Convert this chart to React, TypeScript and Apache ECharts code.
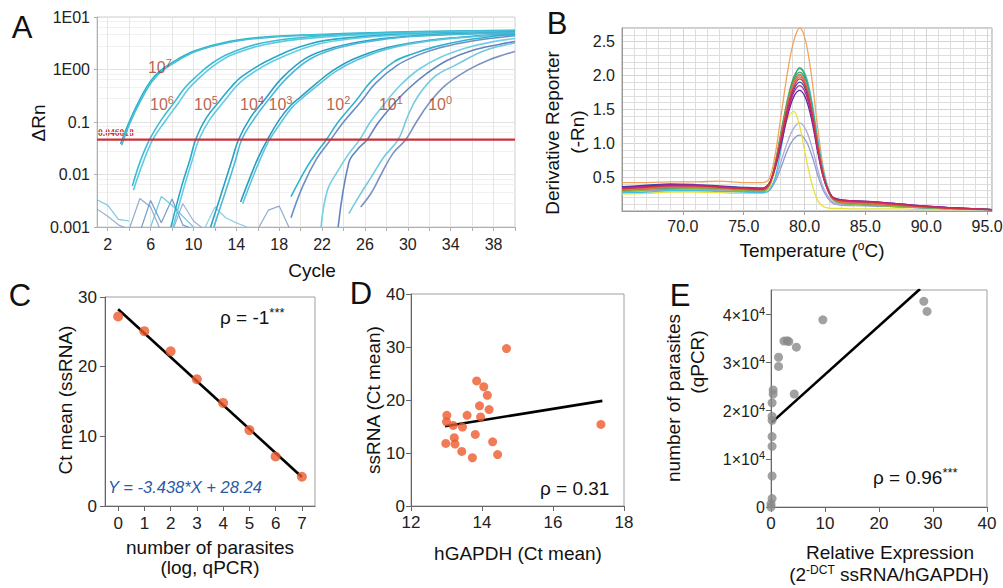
import React, { useEffect, useRef } from 'react';
import * as echarts from 'echarts';

const FONT = '"Liberation Sans", Arial, Helvetica, sans-serif';

// ---------- Panel A: amplification plot ----------
const cycleLabelTicks = [2, 6, 10, 14, 18, 22, 26, 30, 34, 38];
const cycleMinorTicks = [2, 4, 6, 8, 10, 12, 14, 16, 18, 20, 22, 24, 26, 28, 30, 32, 34, 36, 38, 40];
const thresholdA = 0.046018;

const amp7a = [[3.2, 0.038], [4, 0.1], [5, 0.27], [6, 0.6], [7, 0.98], [8.6, 1.6], [10.2, 2.3], [13.3, 3.4], [16.4, 4.1], [21, 4.6], [28, 5.1], [34, 5.4], [40, 5.6]];
const amp7b = [[3.3, 0.036], [4.1, 0.098], [5.1, 0.26], [6.1, 0.58], [7.1, 0.95], [8.7, 1.55], [10.3, 2.25], [13.4, 3.3], [16.5, 4.0], [21, 4.5], [28, 5.0], [34, 5.3], [40, 5.5]];
const amp6a = [[4.3, 0.006], [5, 0.017], [5.9, 0.046], [7, 0.11], [8.3, 0.25], [9.2, 0.45], [10.2, 0.72], [11.7, 1.3], [13.3, 2.0], [16.4, 3.2], [20.9, 4.2], [27, 4.8], [34, 5.2], [40, 5.4]];
const amp6b = [[4.4, 0.005], [5.2, 0.015], [6.2, 0.046], [7.3, 0.1], [8.6, 0.23], [9.5, 0.42], [10.5, 0.68], [12, 1.22], [13.6, 1.9], [16.7, 3.0], [21.2, 4.0], [27, 4.7], [34, 5.1], [40, 5.3]];
const amp5a = [[7.9, 0.001], [8.9, 0.006], [9.7, 0.02], [10.2, 0.046], [11.2, 0.12], [12.5, 0.26], [13.5, 0.46], [14.5, 0.73], [17, 1.5], [20.9, 3.1], [25, 4.1], [30, 4.7], [35, 5.0], [40, 5.2]];
const amp5b = [[8.1, 0.001], [9.1, 0.0055], [9.9, 0.019], [10.5, 0.046], [11.5, 0.11], [12.8, 0.24], [13.8, 0.43], [14.8, 0.68], [17.3, 1.4], [21.2, 2.9], [25, 3.9], [30, 4.6], [35, 4.9], [40, 5.1]];
const amp4a = [[11.6, 0.001], [12.7, 0.005], [13.6, 0.019], [14.2, 0.046], [15.3, 0.12], [16.6, 0.26], [18.3, 0.7], [20.5, 1.65], [23, 2.6], [26, 3.5], [30, 4.3], [35, 4.8], [40, 5.1]];
const amp4b = [[11.9, 0.001], [13, 0.0048], [13.9, 0.018], [14.5, 0.046], [15.6, 0.11], [16.9, 0.25], [18.6, 0.65], [20.8, 1.55], [23.3, 2.5], [26.3, 3.4], [30, 4.2], [35, 4.7], [40, 5.0]];
const amp3a = [[14.4, 0.003], [15.2, 0.008], [16, 0.02], [16.9, 0.046], [18, 0.11], [19, 0.2], [20, 0.3], [21.5, 0.55], [23, 0.95], [25, 1.6], [28, 2.6], [32, 3.6], [36, 4.3], [40, 4.7]];
const amp3b = [[14.6, 0.0028], [15.4, 0.0075], [16.2, 0.019], [17.1, 0.046], [18.2, 0.1], [19.2, 0.19], [20.2, 0.29], [21.7, 0.52], [23.2, 0.9], [25.2, 1.5], [28.2, 2.5], [32, 3.5], [36, 4.2], [40, 4.6]];
const amp2a = [[19.1, 0.0038], [20.6, 0.014], [21.6, 0.028], [22.4, 0.046], [23.5, 0.1], [25.2, 0.26], [26.6, 0.6], [28.7, 1.4], [30.5, 2.0], [32.5, 2.7], [35, 3.5], [38, 4.3], [40, 4.7]];
const amp2b = [[19.1, 0.0015], [20.2, 0.006], [21.5, 0.02], [22.8, 0.046], [24, 0.1], [25.6, 0.24], [27, 0.55], [29, 1.2], [31, 1.9], [33, 2.6], [36, 3.5], [40, 4.4]];
const amp1a = [[21.9, 0.001], [22.5, 0.005], [23.5, 0.012], [24.5, 0.025], [25.5, 0.046], [26.5, 0.1], [27.8, 0.22], [29.3, 0.5], [31, 1.0], [33, 1.7], [35.5, 2.6], [38, 3.4], [40, 3.9]];
const amp1b = [[23.5, 0.001], [24.5, 0.017], [25.3, 0.03], [26.2, 0.046], [27.2, 0.095], [28.5, 0.2], [30, 0.42], [31.8, 0.85], [33.7, 1.5], [36, 2.3], [38.5, 3.0], [40, 3.4]];
const amp0a = [[24.5, 0.0018], [25.5, 0.004], [26.6, 0.009], [27.8, 0.022], [29.1, 0.046], [30, 0.13], [30.9, 0.3], [32.5, 0.73], [34.4, 1.2], [37.2, 2.3], [40, 3.2]];
const amp0b = [[25.6, 0.0024], [26.6, 0.0045], [27.5, 0.01], [28.6, 0.025], [29.8, 0.046], [30.8, 0.1], [32, 0.23], [33.5, 0.5], [35.5, 0.95], [37.5, 1.5], [40, 2.2]];
const ampCurves = [amp7a, amp7b, amp6a, amp6b, amp5a, amp5b, amp4a, amp4b, amp3a, amp3b, amp2a, amp2b, amp1a, amp1b, amp0a, amp0b];
const ampColors = ['#2ab2cc', '#45bfd6', '#3cbdd6', '#5ccbe0', '#28a9c9', '#62cde2', '#2a9fc6', '#4bbad6', '#2a9dc4', '#5ac5dc', '#31b3d0', '#6b8fc6', '#72d0e2', '#6583bc', '#74cadf', '#7b92c2'];

const noise1 = [[1, 0.0033], [2, 0.0026], [3, 0.0014], [4, 0.0013]];
const noise2 = [[1, 0.0022], [2, 0.0016], [3, 0.0011], [4, 0.0009]];
const noise3 = [[4, 0.0009], [5, 0.0035], [6, 0.0024], [7, 0.0008]];
const noise4 = [[5, 0.0008], [6, 0.0032], [7, 0.0012], [8, 0.0034], [9, 0.0011], [10, 0.0009]];
const noise5 = [[6, 0.001], [7, 0.0038], [8, 0.0026], [9, 0.0016], [10, 0.001]];
const noise6 = [[8, 0.0008], [9, 0.0028], [10, 0.0013], [11, 0.0009]];
const noise7 = [[11, 0.0009], [12, 0.0024], [13, 0.0015], [14, 0.0012], [15, 0.001]];
const noise8 = [[16, 0.0009], [17, 0.0021], [18, 0.0025], [19, 0.0009]];
const noiseCurves = [noise1, noise2, noise3, noise4, noise5, noise6, noise7, noise8];
const noiseColors = ['#5fbfd6', '#8aa4cc', '#7f9cc6', '#5c8cc0', '#5bbfd6', '#8aa4cc', '#7fc6dc', '#7f9cc6'];

const ampLabelExp = ['7', '6', '5', '4', '3', '2', '1', '0'];
const ampLabelCycle = [5.75, 5.95, 10.05, 14.35, 17.0, 22.4, 27.3, 31.9];
const ampLabelValue = [1.12, 0.23, 0.23, 0.23, 0.23, 0.23, 0.23, 0.23];

// ---------- Panel B: melt curves ----------
const meltTemps = [65, 67, 69, 71, 73, 75, 76.5, 77.1, 77.6, 78.1, 78.6, 79.1, 79.6, 80.1, 80.6, 81.1, 81.6, 82.2, 82.8, 84, 86, 88, 90, 92, 95.4];
const meltSlate = [0.29, 0.30, 0.31, 0.31, 0.30, 0.29, 0.28, 0.31, 0.44, 0.66, 0.9, 1.06, 1.12, 1.04, 0.82, 0.52, 0.28, 0.13, 0.09, 0.08, 0.07, 0.06, 0.04, 0.03, 0.02];
const meltLavender = [0.30, 0.31, 0.32, 0.32, 0.31, 0.30, 0.29, 0.33, 0.48, 0.75, 1.02, 1.22, 1.3, 1.2, 0.95, 0.6, 0.32, 0.15, 0.1, 0.09, 0.08, 0.06, 0.05, 0.03, 0.02];
const meltYellow = [0.25, 0.26, 0.28, 0.28, 0.27, 0.26, 0.26, 0.34, 0.62, 1.0, 1.36, 1.47, 1.25, 0.8, 0.4, 0.15, 0.06, 0.04, 0.04, 0.03, 0.03, 0.03, 0.02, 0.02, 0.02];
const meltOrange = [0.42, 0.42, 0.43, 0.43, 0.44, 0.42, 0.42, 0.48, 0.85, 1.45, 2.05, 2.5, 2.7, 2.5, 1.95, 1.2, 0.58, 0.22, 0.14, 0.12, 0.10, 0.08, 0.06, 0.04, 0.02];
const meltCyan = [0.27, 0.28, 0.30, 0.30, 0.29, 0.28, 0.27, 0.30, 0.5, 0.95, 1.5, 1.92, 2.12, 2.0, 1.62, 1.05, 0.55, 0.22, 0.12, 0.10, 0.08, 0.06, 0.05, 0.03, 0.02];
const meltGreen = [0.30, 0.32, 0.33, 0.34, 0.33, 0.31, 0.30, 0.38, 0.72, 1.2, 1.65, 1.97, 2.1, 1.96, 1.55, 0.98, 0.5, 0.2, 0.13, 0.11, 0.09, 0.07, 0.05, 0.04, 0.02];
const meltOlive = [0.29, 0.31, 0.33, 0.33, 0.32, 0.30, 0.29, 0.37, 0.7, 1.15, 1.6, 1.9, 2.0, 1.86, 1.46, 0.92, 0.47, 0.19, 0.12, 0.10, 0.08, 0.06, 0.05, 0.03, 0.02];
const meltTeal = [0.31, 0.33, 0.34, 0.35, 0.34, 0.32, 0.31, 0.39, 0.71, 1.16, 1.6, 1.93, 2.05, 1.92, 1.52, 0.96, 0.5, 0.21, 0.14, 0.12, 0.10, 0.08, 0.06, 0.04, 0.02];
const meltDarkOrange = [0.31, 0.33, 0.35, 0.35, 0.34, 0.32, 0.31, 0.39, 0.7, 1.14, 1.58, 1.9, 2.02, 1.88, 1.48, 0.94, 0.49, 0.21, 0.14, 0.12, 0.10, 0.08, 0.06, 0.04, 0.02];
const meltBlue = [0.36, 0.38, 0.40, 0.39, 0.37, 0.35, 0.34, 0.41, 0.67, 1.07, 1.48, 1.78, 1.9, 1.78, 1.42, 0.9, 0.48, 0.23, 0.17, 0.15, 0.13, 0.10, 0.07, 0.05, 0.02];
const meltPurple = [0.35, 0.37, 0.39, 0.38, 0.36, 0.34, 0.33, 0.41, 0.64, 1.0, 1.4, 1.68, 1.78, 1.66, 1.33, 0.85, 0.46, 0.22, 0.17, 0.15, 0.13, 0.10, 0.07, 0.05, 0.02];
const meltPink = [0.32, 0.34, 0.36, 0.36, 0.35, 0.33, 0.32, 0.40, 0.69, 1.12, 1.55, 1.86, 1.98, 1.85, 1.47, 0.93, 0.48, 0.21, 0.15, 0.13, 0.11, 0.09, 0.06, 0.04, 0.02];
const meltMagenta = [0.34, 0.36, 0.38, 0.38, 0.36, 0.34, 0.33, 0.41, 0.66, 1.05, 1.45, 1.74, 1.85, 1.73, 1.38, 0.88, 0.47, 0.22, 0.16, 0.15, 0.13, 0.10, 0.07, 0.05, 0.02];
const meltRed = [0.33, 0.35, 0.37, 0.37, 0.35, 0.33, 0.32, 0.40, 0.68, 1.10, 1.52, 1.82, 1.95, 1.82, 1.45, 0.92, 0.48, 0.22, 0.16, 0.14, 0.12, 0.09, 0.06, 0.04, 0.02];
const meltCurves = [meltSlate, meltLavender, meltYellow, meltOrange, meltCyan, meltGreen, meltOlive, meltTeal, meltDarkOrange, meltBlue, meltPurple, meltPink, meltMagenta, meltRed];
const meltColors = ['#8c9ccc', '#b0a8dc', '#e6e23c', '#f2a45c', '#3fc0e2', '#3aa84a', '#94b234', '#22a3a3', '#e47a22', '#3050c0', '#5a2a9a', '#e06080', '#c0208a', '#d0303c'];

// ---------- Panel C ----------
const logParasitesC = [0, 1, 2, 3, 4, 5, 6, 7];
const ctMeanC = [27.2, 25.1, 22.2, 18.2, 14.8, 10.9, 7.1, 4.2];
const slopeC = -3.438;
const interceptC = 28.24;
const ticksC = [0, 1, 2, 3, 4, 5, 6, 7];

// ---------- Panel D ----------
const hgapdhD = [14.69, 13.85, 14.05, 14.15, 13.93, 14.2, 13.01, 13.58, 13.96, 13.0, 13.19, 13.45, 17.35, 13.81, 13.22, 14.3, 12.98, 13.24, 13.43, 14.44, 13.73];
const ssrnaD = [29.7, 23.6, 22.5, 20.9, 18.9, 18.2, 17.1, 17.1, 16.8, 15.9, 15.2, 14.9, 15.4, 13.5, 12.9, 12.1, 11.8, 11.7, 10.3, 9.7, 9.1];
const fitXD = [12.96, 17.39];
const fitYD = [15.05, 19.84];

// ---------- Panel E ----------
const relExprE = [28.3, 28.9, 9.6, 2.4, 3.0, 3.3, 4.7, 1.4, 1.4, 4.3, 0.4, 0.4, 0.2, 0.2, 0.2, 0.2, 0.2, 0.2, 0.2, 0.0, 0.0];
const parasitesE = [42660, 40560, 38810, 34400, 34500, 34300, 33150, 31050, 29160, 23430, 24270, 23430, 21600, 18800, 17970, 14600, 12590, 6430, 1750, 630, 0];
const fitXE = [0.2, 27.6];
const fitYE = [17600, 45200];
const ticksYE = [0, 10000, 20000, 30000, 40000];

const sup = (main: number, s: number, color = '#222') => ({
  a: { fontSize: main, fontFamily: FONT, fill: color, color, verticalAlign: 'bottom' },
  s: { fontSize: s, fontFamily: FONT, fill: color, color, verticalAlign: 'bottom', padding: [0, 0, Math.round(main * 0.42), 0] },
});

function txt(x: number, y: number, text: string, size: number, extra: any = {}) {
  return {
    type: 'text',
    x,
    y,
    rotation: extra.rotation || 0,
    silent: true,
    style: {
      text,
      fontSize: size,
      fontFamily: extra.fontFamily || FONT,
      fontWeight: extra.fontWeight || 'normal',
      fill: extra.fill || '#111',
      align: extra.align || 'center',
      verticalAlign: 'middle',
      fontStyle: extra.fontStyle || 'normal',
      rich: extra.rich,
    },
  };
}

const axisLbl = (size: number, extra: any = {}) => ({ fontSize: size, color: '#222', fontFamily: FONT, ...extra });

function buildOption(): any {
  const series: any[] = [];

  noiseCurves.forEach((c, i) =>
    series.push({
      type: 'line', xAxisIndex: 0, yAxisIndex: 0, data: c, showSymbol: false, symbol: 'none',
      lineStyle: { width: 1.2, color: noiseColors[i], opacity: 0.85 }, z: 2,
    })
  );
  ampCurves.forEach((c, i) =>
    series.push({
      type: 'line', xAxisIndex: 0, yAxisIndex: 0, data: c, showSymbol: false, symbol: 'none', smooth: 0.4,
      lineStyle: { width: 1.6, color: ampColors[i] }, z: 3,
    })
  );
  series.push({
    type: 'line', xAxisIndex: 0, yAxisIndex: 0, data: [[1, thresholdA], [40, thresholdA]], showSymbol: false, symbol: 'none',
    lineStyle: { width: 2.2, color: '#c8323c' }, z: 4,
  });
  series.push({
    type: 'scatter', xAxisIndex: 0, yAxisIndex: 0, symbolSize: 0, z: 6,
    data: ampLabelExp.map((e, i) => ({ value: [ampLabelCycle[i], ampLabelValue[i]], exp: e })),
    label: {
      show: true, position: 'right', distance: 0,
      formatter: (p: any) => `{a|10}{s|${ampLabelExp[p.dataIndex]}}`,
      rich: sup(16, 11, '#a9391d'),
    },
  });

  meltCurves.forEach((c, i) =>
    series.push({
      type: 'line', xAxisIndex: 1, yAxisIndex: 1, data: meltTemps.map((t, k) => [t, c[k]]), showSymbol: false, symbol: 'none', smooth: 0.35,
      lineStyle: { width: 1.3, color: meltColors[i] },
    })
  );

  series.push({
    type: 'line', xAxisIndex: 2, yAxisIndex: 2, showSymbol: false, symbol: 'none',
    data: [[logParasitesC[0], slopeC * logParasitesC[0] + interceptC], [logParasitesC[7], slopeC * logParasitesC[7] + interceptC]],
    lineStyle: { width: 2.6, color: '#000' }, z: 3,
  });
  series.push({
    type: 'scatter', xAxisIndex: 2, yAxisIndex: 2, symbolSize: 10, z: 4,
    data: logParasitesC.map((x, i) => [x, ctMeanC[i]]), itemStyle: { color: '#ed5a2c' },
  });

  series.push({
    type: 'line', xAxisIndex: 3, yAxisIndex: 3, showSymbol: false, symbol: 'none',
    data: fitXD.map((x, i) => [x, fitYD[i]]), lineStyle: { width: 2.6, color: '#000' }, z: 3,
  });
  series.push({
    type: 'scatter', xAxisIndex: 3, yAxisIndex: 3, symbolSize: 9, z: 4,
    data: hgapdhD.map((x, i) => [x, ssrnaD[i]]), itemStyle: { color: '#ed5a2c' },
  });

  series.push({
    type: 'line', xAxisIndex: 4, yAxisIndex: 4, showSymbol: false, symbol: 'none',
    data: fitXE.map((x, i) => [x, fitYE[i]]), lineStyle: { width: 2.6, color: '#000' }, z: 3,
  });
  series.push({
    type: 'scatter', xAxisIndex: 4, yAxisIndex: 4, symbolSize: 9, z: 4,
    data: relExprE.map((x, i) => [x, parasitesE[i]]), itemStyle: { color: '#8a8a8a' },
  });

  const prismX = (gi: number, min: number, max: number, interval: number | undefined, extra: any = {}) => ({
    gridIndex: gi, type: 'value', min, max, interval,
    axisLine: { show: true, onZero: false, lineStyle: { color: '#666', width: 1 } },
    axisTick: { show: true, length: 5, lineStyle: { color: '#666' }, ...(extra.tick || {}) },
    axisLabel: axisLbl(17, { margin: 8, ...(extra.label || {}) }),
    splitLine: { show: false },
  });

  const gridBase = { containLabel: false, outerBoundsMode: 'none', show: true, backgroundColor: 'transparent' };

  return {
    animation: false,
    backgroundColor: '#fff',
    textStyle: { fontFamily: FONT },
    grid: [
      { ...gridBase, left: 97, top: 17, width: 418, height: 210, borderColor: '#cfcfcf', borderWidth: 1 },
      { ...gridBase, left: 622, top: 28, width: 370, height: 183, borderColor: '#9a9a9a', borderWidth: 1 },
      { ...gridBase, left: 105, top: 297, width: 210, height: 209, borderColor: '#a0a0a0', borderWidth: 1 },
      { ...gridBase, left: 411, top: 294, width: 213, height: 212, borderColor: '#a0a0a0', borderWidth: 1 },
      { ...gridBase, left: 771, top: 290, width: 216, height: 217, borderColor: '#a0a0a0', borderWidth: 1 },
    ],
    xAxis: [
      {
        gridIndex: 0, type: 'value', min: 1, max: 40,
        axisLine: { show: true, onZero: false, lineStyle: { color: '#b0b0b0' } },
        axisTick: { show: true, customValues: cycleMinorTicks, length: 4, lineStyle: { color: '#b0b0b0' } },
        axisLabel: axisLbl(16, { customValues: cycleLabelTicks, margin: 9 }),
        splitLine: { show: true, lineStyle: { color: '#e6e6e6', width: 1 } },
      },
      {
        gridIndex: 1, type: 'value', min: 65, max: 95.4, interval: 5,
        axisLine: { show: true, onZero: false, lineStyle: { color: '#9a9a9a' } },
        axisTick: { show: true, length: 4, lineStyle: { color: '#9a9a9a' } },
        axisLabel: axisLbl(16, { margin: 7, showMinLabel: false, showMaxLabel: false, formatter: (v: number) => v.toFixed(1) }),
        splitLine: { show: true, lineStyle: { color: '#d4d4d4' } },
        minorTick: { show: false, splitNumber: 5 },
        minorSplitLine: { show: true, lineStyle: { color: '#dedede' } },
      },
      prismX(2, -0.5, 7.5, undefined, { tick: { customValues: ticksC }, label: { customValues: ticksC, margin: 9 } }),
      prismX(3, 12, 18, 2, { label: { margin: 8 } }),
      prismX(4, 0, 40, 10, { label: { margin: 8 } }),
    ],
    yAxis: [
      {
        gridIndex: 0, type: 'log', logBase: 10, min: 0.001, max: 10,
        axisLine: { show: true, onZero: false, lineStyle: { color: '#b0b0b0' } },
        axisTick: { show: true, length: 3, lineStyle: { color: '#b0b0b0' } },
        axisLabel: axisLbl(16, {
          margin: 7,
          formatter: (v: number) => {
            const e = Math.round(Math.log10(v));
            return ({ 1: '1E01', 0: '1E00', [-1]: '0.1', [-2]: '0.01', [-3]: '0.001' } as any)[e] ?? '';
          },
        }),
        splitLine: { show: true, lineStyle: { color: '#e2e2e2' } },
        minorTick: { show: false, splitNumber: 5 },
        minorSplitLine: { show: true, lineStyle: { color: '#f1f1f1' } },
      },
      {
        gridIndex: 1, type: 'value', min: 0, max: 2.7, interval: 0.5,
        axisLine: { show: true, onZero: false, lineStyle: { color: '#9a9a9a' } },
        axisTick: { show: false },
        axisLabel: axisLbl(16, { margin: 7, showMinLabel: false, showMaxLabel: false, formatter: (v: number) => v.toFixed(1) }),
        splitLine: { show: true, lineStyle: { color: '#d4d4d4' } },
        minorTick: { show: false, splitNumber: 5 },
        minorSplitLine: { show: true, lineStyle: { color: '#dedede' } },
      },
      { ...prismX(2, 0, 30, 10, { label: { margin: 8 } }) },
      { ...prismX(3, 0, 40, 10, { label: { margin: 6 } }) },
      {
        ...prismX(4, 0, 45000, undefined, {
          tick: { customValues: ticksYE },
          label: {
            margin: 6,
            customValues: ticksYE,
            formatter: (v: number) => (v === 0 ? '{a|0}' : `{a|${v / 10000}×10}{s|4}`),
            rich: sup(16, 11),
          },
        }),
      },
    ],
    series,
    graphic: [
      // panel letters
      txt(22, 27, 'A', 31),
      txt(557, 23, 'B', 31),
      txt(20, 295, 'C', 31),
      txt(361, 293, 'D', 31),
      txt(680, 295, 'E', 31),
      // panel A titles
      txt(38, 123, 'ΔRn', 19, { rotation: Math.PI / 2 }),
      txt(312, 270, 'Cycle', 19),
      txt(98, 132.5, '0.046018', 9.5, { align: 'left', fill: '#c8323c', fontFamily: '"Liberation Serif", "DejaVu Serif", serif', fontWeight: 'bold' }),
      // panel B titles
      txt(552, 133, 'Derivative Reporter', 19, { rotation: Math.PI / 2 }),
      txt(577, 132, '(-Rn)', 19, { rotation: Math.PI / 2 }),
      txt(812, 250, '{a|Temperature (}{s|o}{a|C)}', 19, { rich: sup(19, 12, '#111') }),
      // panel C
      txt(65, 400, 'Ct mean (ssRNA)', 19, { rotation: Math.PI / 2 }),
      txt(210, 547, 'number of parasites', 19),
      txt(210, 567, '(log, qPCR)', 19),
      txt(220, 316, '{a|ρ = -1}{s|***}', 19, { align: 'left', rich: sup(19, 13, '#111') }),
      txt(108, 487, 'Y = -3.438*X + 28.24', 16.5, { align: 'left', fill: '#2a5aa6', fontStyle: 'italic' }),
      // panel D
      txt(373, 400, 'ssRNA (Ct mean)', 19, { rotation: Math.PI / 2 }),
      txt(518, 553, 'hGAPDH (Ct mean)', 19),
      txt(540, 488, 'ρ = 0.31', 19, { align: 'left' }),
      // panel E
      txt(673, 398, 'number of parasites', 19, { rotation: Math.PI / 2 }),
      txt(697, 362, '(qPCR)', 19, { rotation: Math.PI / 2 }),
      txt(890, 552, 'Relative Expression', 19),
      txt(889, 574, '{a|(2}{s|-DCT}{a| ssRNA/hGAPDH)}', 19, { rich: sup(19, 12, '#111') }),
      txt(873, 476, '{a|ρ = 0.96}{s|***}', 19, { align: 'left', rich: sup(19, 13, '#111') }),
    ],
  };
}

export default function App() {
  const ref = useRef<HTMLDivElement>(null);
  useEffect(() => {
    if (!ref.current) return;
    const chart = echarts.init(ref.current, undefined, { renderer: 'svg' });
    chart.setOption(buildOption());
    return () => chart.dispose();
  }, []);
  return (
    <div
      ref={ref}
      style={{ position: 'fixed', left: 0, top: 0, width: 1003, height: 588, background: '#fff' }}
    />
  );
}
